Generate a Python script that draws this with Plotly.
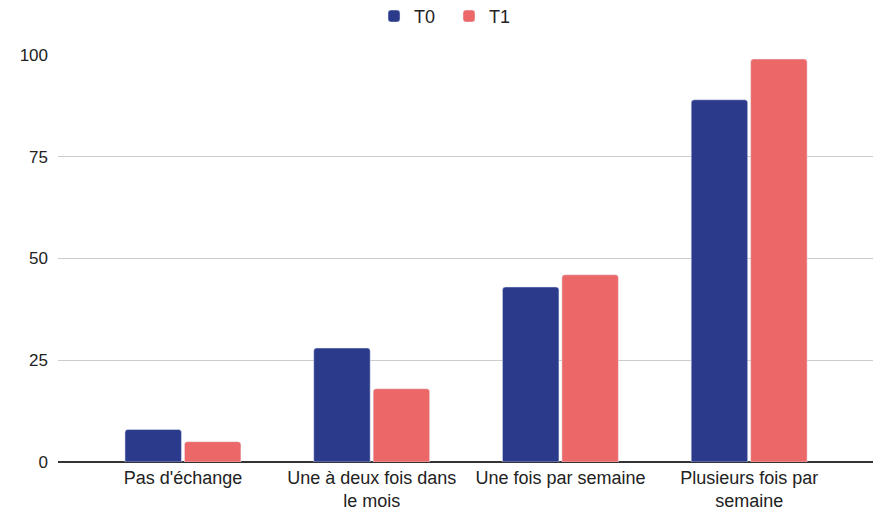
import plotly.graph_objects as go

categories = ["Pas d'échange", "Une à deux fois dans<br>le mois", "Une fois par semaine", "Plusieurs fois par<br>semaine"]
t0_values = [8, 28, 43, 89]
t1_values = [5, 18, 46, 99]
y_ticks = [0, 25, 50, 75, 100]

fig = go.Figure()
fig.add_trace(go.Bar(name="T0", x=categories, y=t0_values, marker=dict(color="#2b3a8b", cornerradius=3)))
fig.add_trace(go.Bar(name="T1", x=categories, y=t1_values, marker=dict(color="#ec6767", cornerradius=3)))

fig.update_layout(
    width=873, height=502,
    barmode="group", bargap=0.37, bargroupgap=0.05,
    margin=dict(l=50, r=5, t=47, b=48, autoexpand=False),
    paper_bgcolor="white", plot_bgcolor="white",
    font=dict(family="Liberation Sans, Arial", size=18, color="#222222"),
    legend=dict(orientation="h", x=0.478, xanchor="center", y=1.095, yanchor="middle",
                font=dict(size=18), itemwidth=30, entrywidth=30),
    showlegend=True,
)
fig.update_xaxes(range=[-0.662, 3.672], showgrid=False, ticks="", tickfont=dict(size=18),
                 ticklabelstandoff=3, automargin=False)
fig.update_yaxes(range=[0, 100], tickvals=y_ticks, showgrid=True, gridcolor="#cccccc",
                 zeroline=True, zerolinecolor="#333333", zerolinewidth=1.5,
                 ticks="", ticklabelstandoff=9, tickfont=dict(size=17), automargin=False)

fig.write_html("out.html")
